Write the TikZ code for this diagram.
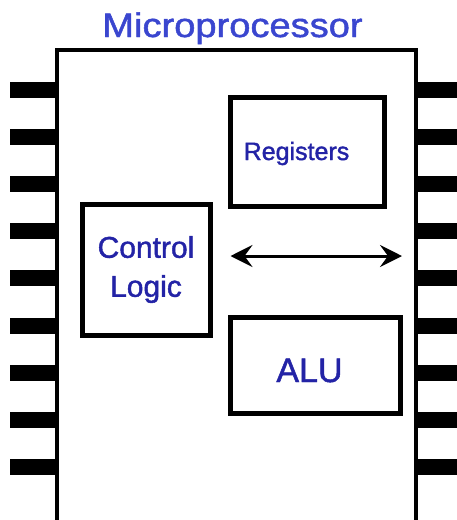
\documentclass[tikz,border=0pt]{standalone}
\usepackage{fontspec}
\setmainfont{Liberation Sans}
\newfontfamily\cpufont[FakeBold=1.4]{Liberation Sans}
\usetikzlibrary{arrows.meta, positioning}
\definecolor{cpublue}{HTML}{3A46CF}
\definecolor{cpuink}{HTML}{2323A6}

\begin{document}
\begin{tikzpicture}[x=1pt, y=-1pt,
    unitbox/.style={draw=black, line width=5pt, fill=white, inner sep=0pt},
    lbl/.style={text=cpuink, anchor=base, inner sep=0pt}]
  \useasboundingbox (0,0) rectangle (457,520);
  % pins on both sides
  \foreach \i in {0,...,8} {
    \fill (10,{82+47.1*\i}) rectangle (58,{98+47.1*\i});
    \fill (415,{82+47.1*\i}) rectangle (457,{98+47.1*\i});
  }
  % chip body and title
  \node[draw=black, line width=4pt, fill=white, inner sep=0pt,
        minimum width=359pt, minimum height=472pt] (chip) at (236.5,286) {};
  \node[text=cpublue, anchor=base, inner sep=0pt, font=\cpufont\fontsize{34}{40}\selectfont]
       (title) at (232.5,37) {\scalebox{1.12}[1]{Microprocessor}};
  % registers
  \node[unitbox, minimum width=154pt, minimum height=109pt] (regs) at (307,151.5) {};
  \node[lbl, font=\cpufont\fontsize{25}{30}\selectfont] (regtext) at (296.5,160) {Registers};
  % control logic
  \node[unitbox, minimum width=128pt, minimum height=131pt, text=cpuink,
        align=center, font=\cpufont\fontsize{30}{39}\selectfont] (ctrl) at (146,269.5) {Control\\Logic};
  % ALU
  \node[unitbox, minimum width=170pt, minimum height=96pt] (alu) at (315.5,365) {};
  \node[lbl, font=\cpufont\fontsize{34}{40}\selectfont] (alutext) at (309.5,382) {ALU};
  % internal bus
  \coordinate (busL) at (230.5,256);
  \coordinate (busR) at (402,256);
  \draw[line width=3pt, {Stealth[length=22pt, width=22pt, inset=8pt]}-{Stealth[length=22pt, width=22pt, inset=8pt]}]
    (busL) -- (busR);
\end{tikzpicture}
\end{document}
